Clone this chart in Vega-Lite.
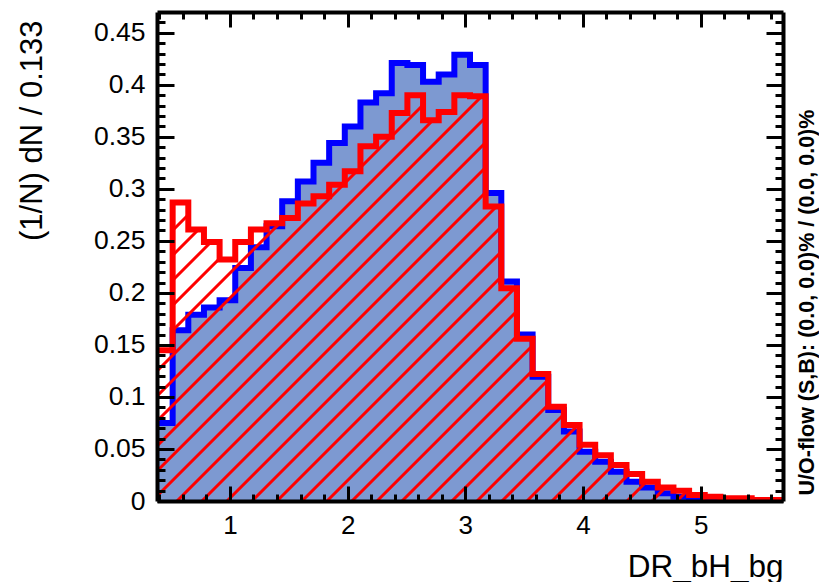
{
  "$schema": "https://vega.github.io/schema/vega-lite/v6.json",
  "width": 626,
  "height": 489,
  "autosize": {"type": "none"},
  "padding": {"left": 157, "top": 12, "right": 36, "bottom": 81},
  "background": "white",
  "config": {
    "view": {"stroke": null},
    "axis": {"grid": false, "labelFont": "Liberation Sans", "titleFont": "Liberation Sans"}
  },
  "data": {"values": [
    {"x": 0.380, "sig": 0.075, "bkg": 0.145},
    {"x": 0.513, "sig": 0.164, "bkg": 0.287},
    {"x": 0.646, "sig": 0.179, "bkg": 0.261},
    {"x": 0.779, "sig": 0.186, "bkg": 0.249},
    {"x": 0.912, "sig": 0.193, "bkg": 0.232},
    {"x": 1.045, "sig": 0.224, "bkg": 0.249},
    {"x": 1.178, "sig": 0.244, "bkg": 0.261},
    {"x": 1.311, "sig": 0.264, "bkg": 0.267},
    {"x": 1.444, "sig": 0.288, "bkg": 0.272},
    {"x": 1.577, "sig": 0.307, "bkg": 0.286},
    {"x": 1.710, "sig": 0.325, "bkg": 0.293},
    {"x": 1.843, "sig": 0.344, "bkg": 0.304},
    {"x": 1.976, "sig": 0.360, "bkg": 0.317},
    {"x": 2.109, "sig": 0.383, "bkg": 0.341},
    {"x": 2.242, "sig": 0.392, "bkg": 0.350},
    {"x": 2.375, "sig": 0.421, "bkg": 0.373},
    {"x": 2.508, "sig": 0.419, "bkg": 0.390},
    {"x": 2.641, "sig": 0.403, "bkg": 0.366},
    {"x": 2.774, "sig": 0.410, "bkg": 0.374},
    {"x": 2.907, "sig": 0.429, "bkg": 0.390},
    {"x": 3.040, "sig": 0.419, "bkg": 0.389},
    {"x": 3.173, "sig": 0.296, "bkg": 0.283},
    {"x": 3.306, "sig": 0.211, "bkg": 0.2045},
    {"x": 3.439, "sig": 0.160, "bkg": 0.156},
    {"x": 3.572, "sig": 0.1195, "bkg": 0.122},
    {"x": 3.705, "sig": 0.0875, "bkg": 0.0907},
    {"x": 3.838, "sig": 0.0667, "bkg": 0.073},
    {"x": 3.971, "sig": 0.0474, "bkg": 0.054},
    {"x": 4.104, "sig": 0.0378, "bkg": 0.044},
    {"x": 4.237, "sig": 0.028, "bkg": 0.0346},
    {"x": 4.370, "sig": 0.0186, "bkg": 0.026},
    {"x": 4.503, "sig": 0.013, "bkg": 0.0186},
    {"x": 4.636, "sig": 0.0074, "bkg": 0.013},
    {"x": 4.769, "sig": 0.004, "bkg": 0.0099},
    {"x": 4.902, "sig": 0.002, "bkg": 0.0058},
    {"x": 5.035, "sig": 0.0013, "bkg": 0.0042},
    {"x": 5.168, "sig": 0.0006, "bkg": 0.0026},
    {"x": 5.301, "sig": 0.0005, "bkg": 0.0026},
    {"x": 5.434, "sig": 0.0004, "bkg": 0.001},
    {"x": 5.567, "sig": 0.0003, "bkg": 0.001},
    {"x": 5.700, "sig": 0.0003, "bkg": 0.001}
  ]},
  "resolve": {"axis": {"x": "independent", "y": "independent"}},
  "layer": [
    {
      "mark": {"type": "area", "interpolate": "step-after", "fill": "#7d99d1", "clip": true},
      "encoding": {
        "x": {"field": "x", "type": "quantitative", "scale": {"domain": [0.38, 5.70], "nice": false, "zero": false},
          "axis": {"orient": "bottom", "zindex": 1, "values": [1, 2, 3, 4, 5], "tickSize": -15, "tickWidth": 3, "tickColor": "#000000", "labelFontSize": 26, "labelColor": "#000000", "labelPadding": 26, "domainWidth": 4, "domainColor": "#000000",
            "title": "DR_bH_bg", "titleColor": "#000000", "titleFontSize": 31.5, "titleFontWeight": "normal", "titleX": 626, "titleY": 75, "titleAlign": "right", "titleBaseline": "alphabetic"}},
        "y": {"field": "sig", "type": "quantitative", "scale": {"domain": [0, 0.47], "nice": false, "zero": true},
          "axis": {"orient": "left", "zindex": 1, "values": [0, 0.05, 0.1, 0.15, 0.2, 0.25, 0.3, 0.35, 0.4, 0.45], "format": "~g", "tickSize": -17, "tickWidth": 3, "tickColor": "#000000", "labelFontSize": 26.5, "labelColor": "#000000", "labelPadding": 29, "domainWidth": 4, "domainColor": "#000000",
            "title": "(1/N) dN / 0.133", "titleColor": "#000000", "titleFontSize": 31, "titleFontWeight": "normal", "titleAngle": -90, "titleX": -125, "titleY": 8, "titleAlign": "right", "titleBaseline": "middle"}}
      }
    },
    {
      "mark": {"type": "line", "interpolate": "step-after", "stroke": "#0000ff", "strokeWidth": 6, "strokeJoin": "miter", "clip": true},
      "encoding": {
        "x": {"field": "x", "type": "quantitative",
          "axis": {"orient": "bottom", "zindex": 1, "values": [0.4, 0.6, 0.8, 1.2, 1.4, 1.6, 1.8, 2.2, 2.4, 2.6, 2.8, 3.2, 3.4, 3.6, 3.8, 4.2, 4.4, 4.6, 4.8, 5.2, 5.4, 5.6], "tickSize": -7, "tickWidth": 3, "tickColor": "#000000", "labels": false, "domain": false, "title": null}},
        "y": {"field": "sig", "type": "quantitative",
          "axis": {"orient": "left", "zindex": 1, "values": [0.01, 0.02, 0.03, 0.04, 0.06, 0.07, 0.08, 0.09, 0.11, 0.12, 0.13, 0.14, 0.16, 0.17, 0.18, 0.19, 0.21, 0.22, 0.23, 0.24, 0.26, 0.27, 0.28, 0.29, 0.31, 0.32, 0.33, 0.34, 0.36, 0.37, 0.38, 0.39, 0.41, 0.42, 0.43, 0.44, 0.46], "tickSize": -8, "tickWidth": 3, "tickColor": "#000000", "labels": false, "domain": false, "title": null}}
      }
    },
    {
      "mark": {"type": "area", "interpolate": "step-after", "clip": true,
        "fill": {"gradient": "linear", "x1": 0, "y1": 0, "x2": 1.16057, "y2": 0.75228, "stops": [
          {"offset": 0, "color": "#ff0000"}, {"offset": 0.0023, "color": "#ff0000"}, {"offset": 0.0033, "color": "rgba(255,0,0,0)"},
          {"offset": 0.0225, "color": "rgba(255,0,0,0)"}, {"offset": 0.0234, "color": "#ff0000"}, {"offset": 0.0265, "color": "#ff0000"}, {"offset": 0.0275, "color": "rgba(255,0,0,0)"},
          {"offset": 0.0468, "color": "rgba(255,0,0,0)"}, {"offset": 0.0477, "color": "#ff0000"}, {"offset": 0.0508, "color": "#ff0000"}, {"offset": 0.0518, "color": "rgba(255,0,0,0)"},
          {"offset": 0.0710, "color": "rgba(255,0,0,0)"}, {"offset": 0.0719, "color": "#ff0000"}, {"offset": 0.0750, "color": "#ff0000"}, {"offset": 0.0760, "color": "rgba(255,0,0,0)"},
          {"offset": 0.0952, "color": "rgba(255,0,0,0)"}, {"offset": 0.0961, "color": "#ff0000"}, {"offset": 0.0992, "color": "#ff0000"}, {"offset": 0.1002, "color": "rgba(255,0,0,0)"},
          {"offset": 0.1195, "color": "rgba(255,0,0,0)"}, {"offset": 0.1204, "color": "#ff0000"}, {"offset": 0.1235, "color": "#ff0000"}, {"offset": 0.1245, "color": "rgba(255,0,0,0)"},
          {"offset": 0.1437, "color": "rgba(255,0,0,0)"}, {"offset": 0.1446, "color": "#ff0000"}, {"offset": 0.1477, "color": "#ff0000"}, {"offset": 0.1487, "color": "rgba(255,0,0,0)"},
          {"offset": 0.1679, "color": "rgba(255,0,0,0)"}, {"offset": 0.1688, "color": "#ff0000"}, {"offset": 0.1719, "color": "#ff0000"}, {"offset": 0.1729, "color": "rgba(255,0,0,0)"},
          {"offset": 0.1921, "color": "rgba(255,0,0,0)"}, {"offset": 0.1930, "color": "#ff0000"}, {"offset": 0.1961, "color": "#ff0000"}, {"offset": 0.1971, "color": "rgba(255,0,0,0)"},
          {"offset": 0.2164, "color": "rgba(255,0,0,0)"}, {"offset": 0.2173, "color": "#ff0000"}, {"offset": 0.2204, "color": "#ff0000"}, {"offset": 0.2214, "color": "rgba(255,0,0,0)"},
          {"offset": 0.2406, "color": "rgba(255,0,0,0)"}, {"offset": 0.2415, "color": "#ff0000"}, {"offset": 0.2446, "color": "#ff0000"}, {"offset": 0.2456, "color": "rgba(255,0,0,0)"},
          {"offset": 0.2648, "color": "rgba(255,0,0,0)"}, {"offset": 0.2657, "color": "#ff0000"}, {"offset": 0.2688, "color": "#ff0000"}, {"offset": 0.2698, "color": "rgba(255,0,0,0)"},
          {"offset": 0.2891, "color": "rgba(255,0,0,0)"}, {"offset": 0.2900, "color": "#ff0000"}, {"offset": 0.2931, "color": "#ff0000"}, {"offset": 0.2941, "color": "rgba(255,0,0,0)"},
          {"offset": 0.3133, "color": "rgba(255,0,0,0)"}, {"offset": 0.3142, "color": "#ff0000"}, {"offset": 0.3173, "color": "#ff0000"}, {"offset": 0.3183, "color": "rgba(255,0,0,0)"},
          {"offset": 0.3375, "color": "rgba(255,0,0,0)"}, {"offset": 0.3384, "color": "#ff0000"}, {"offset": 0.3415, "color": "#ff0000"}, {"offset": 0.3425, "color": "rgba(255,0,0,0)"},
          {"offset": 0.3618, "color": "rgba(255,0,0,0)"}, {"offset": 0.3627, "color": "#ff0000"}, {"offset": 0.3658, "color": "#ff0000"}, {"offset": 0.3668, "color": "rgba(255,0,0,0)"},
          {"offset": 0.3860, "color": "rgba(255,0,0,0)"}, {"offset": 0.3869, "color": "#ff0000"}, {"offset": 0.3900, "color": "#ff0000"}, {"offset": 0.3910, "color": "rgba(255,0,0,0)"},
          {"offset": 0.4102, "color": "rgba(255,0,0,0)"}, {"offset": 0.4111, "color": "#ff0000"}, {"offset": 0.4142, "color": "#ff0000"}, {"offset": 0.4152, "color": "rgba(255,0,0,0)"},
          {"offset": 0.4344, "color": "rgba(255,0,0,0)"}, {"offset": 0.4353, "color": "#ff0000"}, {"offset": 0.4384, "color": "#ff0000"}, {"offset": 0.4394, "color": "rgba(255,0,0,0)"},
          {"offset": 0.4587, "color": "rgba(255,0,0,0)"}, {"offset": 0.4596, "color": "#ff0000"}, {"offset": 0.4627, "color": "#ff0000"}, {"offset": 0.4637, "color": "rgba(255,0,0,0)"},
          {"offset": 0.4829, "color": "rgba(255,0,0,0)"}, {"offset": 0.4838, "color": "#ff0000"}, {"offset": 0.4869, "color": "#ff0000"}, {"offset": 0.4879, "color": "rgba(255,0,0,0)"},
          {"offset": 0.5071, "color": "rgba(255,0,0,0)"}, {"offset": 0.5080, "color": "#ff0000"}, {"offset": 0.5111, "color": "#ff0000"}, {"offset": 0.5121, "color": "rgba(255,0,0,0)"},
          {"offset": 0.5314, "color": "rgba(255,0,0,0)"}, {"offset": 0.5323, "color": "#ff0000"}, {"offset": 0.5354, "color": "#ff0000"}, {"offset": 0.5364, "color": "rgba(255,0,0,0)"},
          {"offset": 0.5556, "color": "rgba(255,0,0,0)"}, {"offset": 0.5565, "color": "#ff0000"}, {"offset": 0.5596, "color": "#ff0000"}, {"offset": 0.5606, "color": "rgba(255,0,0,0)"},
          {"offset": 0.5798, "color": "rgba(255,0,0,0)"}, {"offset": 0.5807, "color": "#ff0000"}, {"offset": 0.5838, "color": "#ff0000"}, {"offset": 0.5848, "color": "rgba(255,0,0,0)"},
          {"offset": 0.6041, "color": "rgba(255,0,0,0)"}, {"offset": 0.6050, "color": "#ff0000"}, {"offset": 0.6081, "color": "#ff0000"}, {"offset": 0.6091, "color": "rgba(255,0,0,0)"},
          {"offset": 0.6283, "color": "rgba(255,0,0,0)"}, {"offset": 0.6292, "color": "#ff0000"}, {"offset": 0.6323, "color": "#ff0000"}, {"offset": 0.6333, "color": "rgba(255,0,0,0)"},
          {"offset": 0.6525, "color": "rgba(255,0,0,0)"}, {"offset": 0.6534, "color": "#ff0000"}, {"offset": 0.6565, "color": "#ff0000"}, {"offset": 0.6575, "color": "rgba(255,0,0,0)"},
          {"offset": 0.6767, "color": "rgba(255,0,0,0)"}, {"offset": 0.6776, "color": "#ff0000"}, {"offset": 0.6807, "color": "#ff0000"}, {"offset": 0.6817, "color": "rgba(255,0,0,0)"},
          {"offset": 0.7010, "color": "rgba(255,0,0,0)"}, {"offset": 0.7019, "color": "#ff0000"}, {"offset": 0.7050, "color": "#ff0000"}, {"offset": 0.7060, "color": "rgba(255,0,0,0)"},
          {"offset": 0.7252, "color": "rgba(255,0,0,0)"}, {"offset": 0.7261, "color": "#ff0000"}, {"offset": 0.7292, "color": "#ff0000"}, {"offset": 0.7302, "color": "rgba(255,0,0,0)"},
          {"offset": 0.7494, "color": "rgba(255,0,0,0)"}, {"offset": 0.7503, "color": "#ff0000"}, {"offset": 0.7534, "color": "#ff0000"}, {"offset": 0.7544, "color": "rgba(255,0,0,0)"},
          {"offset": 0.7737, "color": "rgba(255,0,0,0)"}, {"offset": 0.7746, "color": "#ff0000"}, {"offset": 0.7777, "color": "#ff0000"}, {"offset": 0.7787, "color": "rgba(255,0,0,0)"},
          {"offset": 0.7979, "color": "rgba(255,0,0,0)"}, {"offset": 0.7988, "color": "#ff0000"}, {"offset": 0.8019, "color": "#ff0000"}, {"offset": 0.8029, "color": "rgba(255,0,0,0)"},
          {"offset": 0.8221, "color": "rgba(255,0,0,0)"}, {"offset": 0.8230, "color": "#ff0000"}, {"offset": 0.8261, "color": "#ff0000"}, {"offset": 0.8271, "color": "rgba(255,0,0,0)"},
          {"offset": 0.8464, "color": "rgba(255,0,0,0)"}, {"offset": 0.8473, "color": "#ff0000"}, {"offset": 0.8504, "color": "#ff0000"}, {"offset": 0.8514, "color": "rgba(255,0,0,0)"},
          {"offset": 0.8706, "color": "rgba(255,0,0,0)"}, {"offset": 0.8715, "color": "#ff0000"}, {"offset": 0.8746, "color": "#ff0000"}, {"offset": 0.8756, "color": "rgba(255,0,0,0)"},
          {"offset": 0.8948, "color": "rgba(255,0,0,0)"}, {"offset": 0.8957, "color": "#ff0000"}, {"offset": 0.8988, "color": "#ff0000"}, {"offset": 0.8998, "color": "rgba(255,0,0,0)"},
          {"offset": 0.9190, "color": "rgba(255,0,0,0)"}, {"offset": 0.9199, "color": "#ff0000"}, {"offset": 0.9230, "color": "#ff0000"}, {"offset": 0.9240, "color": "rgba(255,0,0,0)"},
          {"offset": 0.9433, "color": "rgba(255,0,0,0)"}, {"offset": 0.9442, "color": "#ff0000"}, {"offset": 0.9473, "color": "#ff0000"}, {"offset": 0.9483, "color": "rgba(255,0,0,0)"},
          {"offset": 0.9675, "color": "rgba(255,0,0,0)"}, {"offset": 0.9684, "color": "#ff0000"}, {"offset": 0.9715, "color": "#ff0000"}, {"offset": 0.9725, "color": "rgba(255,0,0,0)"},
          {"offset": 0.9917, "color": "rgba(255,0,0,0)"}, {"offset": 0.9926, "color": "#ff0000"}, {"offset": 0.9957, "color": "#ff0000"}, {"offset": 0.9967, "color": "rgba(255,0,0,0)"}
        ]}},
      "encoding": {
        "x": {"field": "x", "type": "quantitative",
          "axis": {"orient": "top", "zindex": 1, "values": [1, 2, 3, 4, 5], "tickSize": -15, "tickWidth": 3, "tickColor": "#000000", "labels": false, "domainWidth": 4, "domainColor": "#000000", "title": null}},
        "y": {"field": "bkg", "type": "quantitative",
          "axis": {"orient": "right", "zindex": 1, "values": [0, 0.05, 0.1, 0.15, 0.2, 0.25, 0.3, 0.35, 0.4, 0.45], "tickSize": -17, "tickWidth": 3, "tickColor": "#000000", "labels": false, "domainWidth": 4, "domainColor": "#000000",
            "title": "U/O-flow (S,B): (0.0, 0.0)% / (0.0, 0.0)%", "titleColor": "#000000", "titleFontSize": 21.5, "titleFontWeight": "bold", "titleAngle": -90, "titleX": 24, "titleY": 483, "titleAlign": "left", "titleBaseline": "middle"}}
      }
    },
    {
      "mark": {"type": "line", "interpolate": "step-after", "stroke": "#ff0000", "strokeWidth": 6, "strokeJoin": "miter", "clip": true},
      "encoding": {
        "x": {"field": "x", "type": "quantitative",
          "axis": {"orient": "top", "zindex": 1, "values": [0.4, 0.6, 0.8, 1.2, 1.4, 1.6, 1.8, 2.2, 2.4, 2.6, 2.8, 3.2, 3.4, 3.6, 3.8, 4.2, 4.4, 4.6, 4.8, 5.2, 5.4, 5.6], "tickSize": -7, "tickWidth": 3, "tickColor": "#000000", "labels": false, "domain": false, "title": null}},
        "y": {"field": "bkg", "type": "quantitative",
          "axis": {"orient": "right", "zindex": 1, "values": [0.01, 0.02, 0.03, 0.04, 0.06, 0.07, 0.08, 0.09, 0.11, 0.12, 0.13, 0.14, 0.16, 0.17, 0.18, 0.19, 0.21, 0.22, 0.23, 0.24, 0.26, 0.27, 0.28, 0.29, 0.31, 0.32, 0.33, 0.34, 0.36, 0.37, 0.38, 0.39, 0.41, 0.42, 0.43, 0.44, 0.46], "tickSize": -8, "tickWidth": 3, "tickColor": "#000000", "labels": false, "domain": false, "title": null}}
      }
    }
  ]
}
